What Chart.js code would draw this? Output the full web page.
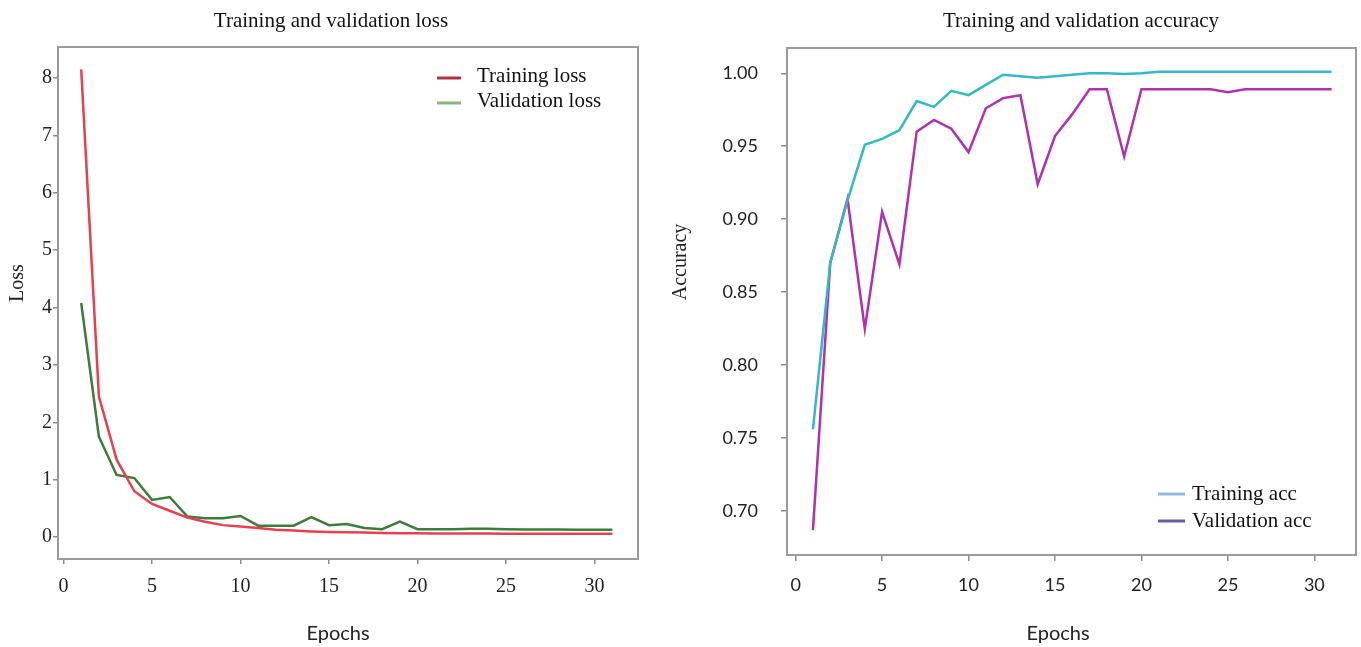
<!DOCTYPE html>
<html><head><meta charset="utf-8">
<script src="https://cdn.jsdelivr.net/npm/chart.js@4.4.0/dist/chart.umd.min.js"></script>
<style>
html,body{margin:0;padding:0;background:#fff;width:1361px;height:647px;overflow:hidden}
#c1{position:absolute;left:0;top:0}
#c2{position:absolute;left:660px;top:0}
</style></head><body>
<canvas id="c1" width="660" height="647"></canvas>
<canvas id="c2" width="701" height="647"></canvas>
<script>
// ---- data ----
const epochs = [1,2,3,4,5,6,7,8,9,10,11,12,13,14,15,16,17,18,19,20,21,22,23,24,25,26,27,28,29,30,31];
const trainLoss = [8.15,2.45,1.35,0.80,0.58,0.46,0.34,0.27,0.21,0.185,0.16,0.13,0.115,0.10,0.09,0.085,0.08,0.075,0.07,0.07,0.065,0.065,0.065,0.065,0.06,0.06,0.06,0.06,0.06,0.06,0.06];
const valLoss = [4.08,1.75,1.085,1.03,0.65,0.70,0.36,0.33,0.33,0.37,0.20,0.20,0.20,0.35,0.21,0.23,0.16,0.14,0.27,0.14,0.14,0.14,0.145,0.145,0.14,0.135,0.135,0.135,0.13,0.13,0.13];
const trainAcc = [0.756,0.870,0.913,0.951,0.955,0.961,0.981,0.977,0.988,0.985,0.992,0.999,0.998,0.997,0.998,0.999,1.000,1.000,0.9995,1.000,1.001,1.001,1.001,1.001,1.001,1.001,1.001,1.001,1.001,1.001,1.001];
const valAcc = [0.687,0.870,0.914,0.825,0.905,0.869,0.960,0.968,0.962,0.946,0.976,0.983,0.985,0.924,0.957,0.972,0.989,0.989,0.943,0.989,0.989,0.989,0.989,0.989,0.987,0.989,0.989,0.989,0.989,0.989,0.989];
const lossTicksX = [0,5,10,15,20,25,30];
const lossTicksY = [0,1,2,3,4,5,6,7,8];
const accTicksX = [0,5,10,15,20,25,30];
const accTicksY = [0.70,0.75,0.80,0.85,0.90,0.95,1.00];
const lossNames = ['Training loss','Validation loss'];
const accNames = ['Training acc','Validation acc'];
const lossTitle = 'Training and validation loss';
const accTitle = 'Training and validation accuracy';
const xTitleText = 'Epochs';
const lossYTitle = 'Loss';
const accYTitle = 'Accuracy';

const SERIF = '"Liberation Serif", "Times New Roman", serif';
const SANS = 'Lato, "Liberation Sans", sans-serif';

const decor = {
  id: 'decor',
  beforeDatasetsDraw(chart, args, o) {
    const {ctx, chartArea: a} = chart;
    ctx.save();
    ctx.strokeStyle = o.boxColor; ctx.lineWidth = o.boxWidth;
    ctx.strokeRect(a.left, a.top, a.right - a.left, a.bottom - a.top);
    ctx.restore();
  },
  afterDraw(chart, args, o) {
    const ctx = chart.ctx;
    ctx.save();
    ctx.fillStyle = '#111';
    ctx.textAlign = 'center'; ctx.textBaseline = 'middle';
    ctx.font = o.titleFont; ctx.fillText(o.title, o.titleX, o.titleY);
    ctx.fillStyle = '#222';
    ctx.font = o.xTitleFont; ctx.fillText(o.xTitle, o.xTitleX, o.xTitleY);
    ctx.save();
    ctx.translate(o.yTitleX, o.yTitleY); ctx.rotate(-Math.PI / 2);
    ctx.font = o.yTitleFont; ctx.fillText(o.yTitle, 0, 0);
    ctx.restore();
    ctx.fillStyle = '#111';
    ctx.font = o.legendFont; ctx.textAlign = 'left'; ctx.textBaseline = 'alphabetic';
    chart.data.datasets.forEach((ds, i) => {
      const r = o.legendRows[i];
      ctx.strokeStyle = o.legendColors[i]; ctx.lineWidth = 3;
      ctx.beginPath(); ctx.moveTo(o.legendX0, r.markY); ctx.lineTo(o.legendX1, r.markY); ctx.stroke();
      ctx.fillText(ds.label, o.legendTextX, r.textY);
    });
    ctx.restore();
  }
};

function pts(ys) { return epochs.map((e, i) => ({x: e, y: ys[i]})); }

function axis(cfg) {
  return {
    type: 'linear', min: cfg.min, max: cfg.max,
    afterBuildTicks: s => { s.ticks = cfg.ticks.map(v => ({value: v})); },
    afterFit: s => { if (cfg.w !== undefined) s.width = cfg.w; if (cfg.h !== undefined) s.height = cfg.h; },
    grid: {drawOnChartArea: false, drawTicks: true, tickLength: cfg.tl, color: '#8c8c8c', lineWidth: 1.5},
    border: {display: false},
    ticks: {padding: cfg.pad, color: '#222', font: cfg.font, autoSkip: false, maxRotation: 0,
            callback: cfg.fmt || (v => String(v))}
  };
}

Chart.defaults.animation = false;

new Chart(document.getElementById('c1'), {
  type: 'line',
  data: {datasets: [
    {label: lossNames[0], data: pts(trainLoss), borderColor: '#e6404e', borderWidth: 2.5, pointRadius: 0, tension: 0},
    {label: lossNames[1], data: pts(valLoss), borderColor: '#3b7d3a', borderWidth: 2.5, pointRadius: 0, tension: 0}
  ]},
  options: {
    responsive: false, devicePixelRatio: 1,
    layout: {padding: {left: 0, top: 47, right: 22, bottom: 0}},
    plugins: {
      legend: {display: false}, title: {display: false}, tooltip: {enabled: false},
      decor: {
        boxColor: '#9a9a9a', boxWidth: 2,
        title: lossTitle, titleX: 331, titleY: 21, titleFont: '21px ' + SERIF,
        xTitle: xTitleText, xTitleX: 338, xTitleY: 634, xTitleFont: '20px ' + SANS,
        yTitle: lossYTitle, yTitleX: 18, yTitleY: 283, yTitleFont: '20px ' + SERIF,
        legendFont: '21px ' + SERIF, legendX0: 437, legendX1: 461, legendTextX: 477,
        legendColors: ['#b3323f', '#8ab57a'],
        legendRows: [{markY: 78, textY: 82}, {markY: 103, textY: 107}]
      }
    },
    scales: {
      x: axis({min: -0.31, max: 32.45, ticks: lossTicksX, h: 88, tl: 5, pad: 11, font: {family: SERIF, size: 20}}),
      y: axis({min: -0.38, max: 8.54, ticks: lossTicksY, w: 58, tl: 5, pad: 1, font: {family: SERIF, size: 20}})
    }
  },
  plugins: [decor]
});

new Chart(document.getElementById('c2'), {
  type: 'line',
  data: {datasets: [
    {label: accNames[0], data: pts(trainAcc), borderColor: '#33b8c8', borderWidth: 2.5, pointRadius: 0, tension: 0},
    {label: accNames[1], data: pts(valAcc), borderColor: '#b030b0', borderWidth: 2.5, pointRadius: 0, tension: 0}
  ]},
  options: {
    responsive: false, devicePixelRatio: 1,
    layout: {padding: {left: 0, top: 48, right: 5, bottom: 0}},
    plugins: {
      legend: {display: false}, title: {display: false}, tooltip: {enabled: false},
      decor: {
        boxColor: '#9a9a9a', boxWidth: 2,
        title: accTitle, titleX: 421, titleY: 21, titleFont: '21px ' + SERIF,
        xTitle: xTitleText, xTitleX: 398, xTitleY: 634, xTitleFont: '20px ' + SANS,
        yTitle: accYTitle, yTitleX: 21, yTitleY: 262, yTitleFont: '20px ' + SERIF,
        legendFont: '21px ' + SERIF, legendX0: 498, legendX1: 525, legendTextX: 532,
        legendColors: ['#8fb9e0', '#6c5aa6'],
        legendRows: [{markY: 494, textY: 500}, {markY: 521, textY: 527}]
      }
    },
    scales: {
      x: axis({min: -0.5, max: 32.41, ticks: accTicksX, h: 92, tl: 6, pad: 13, font: {family: SANS, size: 18}}),
      y: axis({min: 0.670, max: 1.0173, ticks: accTicksY, w: 127, tl: 6, pad: 23, font: {family: SANS, size: 18},
               fmt: v => v.toFixed(2)})
    }
  },
  plugins: [decor]
});
</script>
</body></html>
